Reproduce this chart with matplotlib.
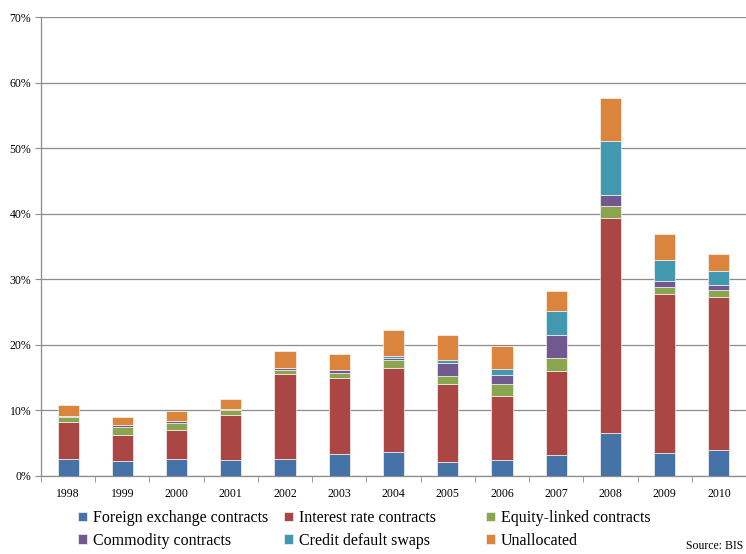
import numpy as np
import matplotlib.pyplot as plt
from matplotlib.ticker import FuncFormatter

plt.rcParams['font.family'] = ['Liberation Serif', 'DejaVu Serif']

years = ['1998', '1999', '2000', '2001', '2002', '2003', '2004',
         '2005', '2006', '2007', '2008', '2009', '2010']

# gross market value as % of world GDP, by risk category
fx_contracts = [2.65, 2.2, 2.65, 2.5, 2.55, 3.35, 3.7, 2.1, 2.45, 3.25, 6.6, 3.5, 3.9]
ir_contracts = [5.55, 4.05, 4.35, 6.8, 12.95, 11.55, 12.8, 11.85, 9.8, 12.75, 32.8, 24.2, 23.4]
equity_contracts = [0.8, 1.25, 1.0, 0.7, 0.7, 0.85, 1.2, 1.35, 1.7, 2.05, 1.85, 1.2, 1.1]
commodity_contracts = [0.15, 0.2, 0.3, 0.2, 0.3, 0.35, 0.35, 1.9, 1.4, 3.45, 1.55, 0.9, 0.75]
cds = [0, 0, 0, 0, 0, 0, 0.25, 0.5, 0.9, 3.6, 8.3, 3.1, 2.15]
unallocated = [1.65, 1.25, 1.55, 1.6, 2.6, 2.55, 4.0, 3.75, 3.5, 3.15, 6.5, 4.05, 2.5]

series = [
    ('Foreign exchange contracts', fx_contracts, '#4572A7'),
    ('Interest rate contracts', ir_contracts, '#AA4643'),
    ('Equity-linked contracts', equity_contracts, '#89A54E'),
    ('Commodity contracts', commodity_contracts, '#71588F'),
    ('Credit default swaps', cds, '#4198AF'),
    ('Unallocated', unallocated, '#DB843D'),
]

fig = plt.figure(figsize=(7.46, 5.54), dpi=100)
ax = fig.add_axes([0.055, 0.141, 0.945, 0.828])

x = np.arange(len(years))
bottom = np.zeros(len(years))
bars = []
for name, vals, col in series:
    b = ax.bar(x, vals, width=0.39, bottom=bottom, color=col,
               edgecolor='#f4f4f4', linewidth=0.5, label=name, zorder=3)
    bars.append(b)
    bottom += np.array(vals)

gcol = '#8c8c8c'
ax.set_ylim(0, 70)
ax.set_yticks(np.arange(0, 71, 10))
ax.yaxis.set_major_formatter(FuncFormatter(lambda v, p: f'{v:.0f}%'))
ax.grid(axis='y', color=gcol, linewidth=0.9, zorder=0)
ax.set_xlim(-0.5, len(years) - 0.5)

# year labels centered, tick marks between categories
ax.set_xticks(x)
ax.set_xticklabels(years)
ax.tick_params(axis='x', length=0, pad=9, labelsize=8.5)
ax.set_xticks(np.arange(-0.5, len(years), 1), minor=True)
ax.tick_params(axis='x', which='minor', length=4, color=gcol, direction='out')
ax.tick_params(axis='y', length=4, color=gcol, labelsize=8.5, pad=3)

for s in ['top', 'right']:
    ax.spines[s].set_visible(False)
for s in ['left', 'bottom']:
    ax.spines[s].set_color(gcol)
    ax.spines[s].set_linewidth(0.9)

# legend laid out as three columns of two entries
col_x = [0.105, 0.381, 0.652]
for i, cx in enumerate(col_x):
    hs = [bars[i], bars[i + 3]]
    ls = [series[i][0], series[i + 3][0]]
    fig.legend(hs, ls, loc='upper left', bbox_to_anchor=(cx, 0.079),
               frameon=False, fontsize=11.5, handlelength=0.55,
               handleheight=0.55, handletextpad=0.35, labelspacing=0.4,
               borderaxespad=0, borderpad=0)

fig.text(0.996, 0.004, 'Source: BIS', ha='right', va='bottom', fontsize=8.5)

fig.savefig('out.png', dpi=100)
